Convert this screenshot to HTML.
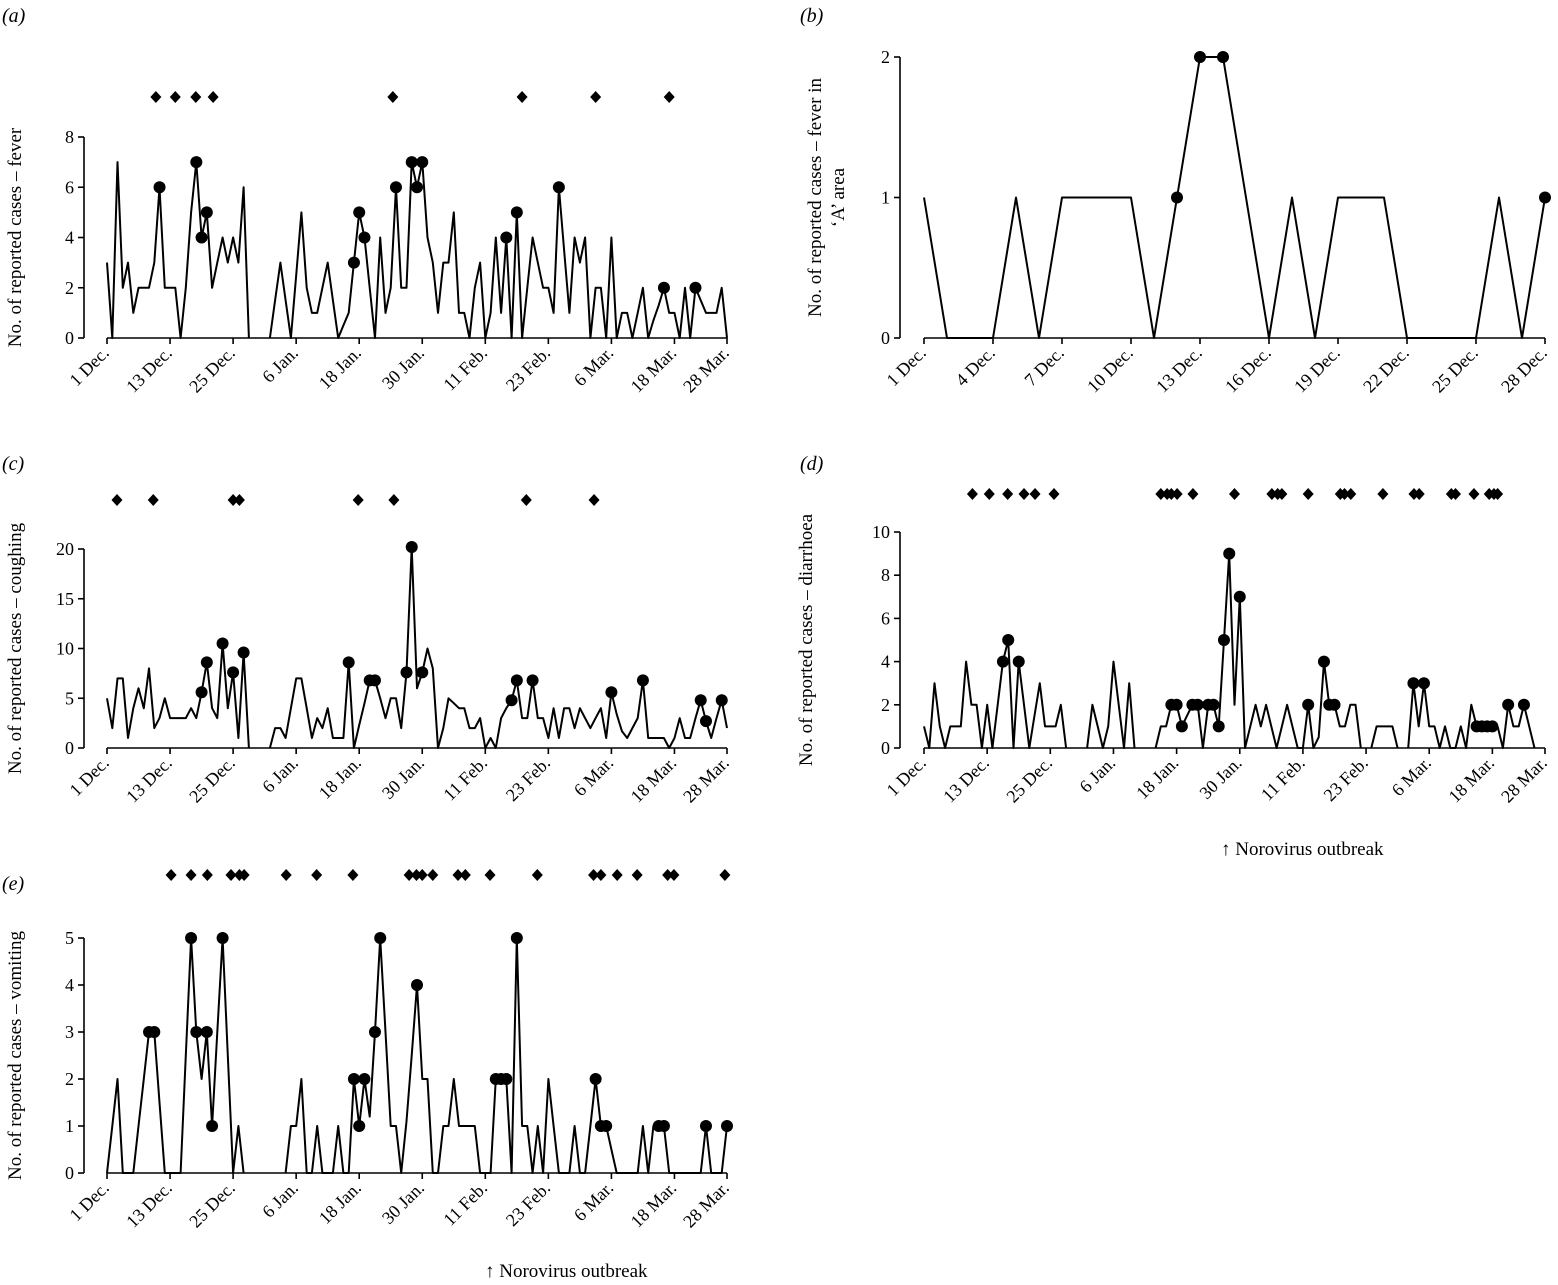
<!DOCTYPE html>
<html><head><meta charset="utf-8"><style>
body{margin:0;background:#fff}
svg{display:block;font-family:"Liberation Serif",serif}
</style></head><body>
<svg id="chart" width="1558" height="1285" viewBox="0 0 1558 1285" xmlns="http://www.w3.org/2000/svg"></svg>
<script>
const N=null;
const dateTicks=["1 Dec.","13 Dec.","25 Dec.","6 Jan.","18 Jan.","30 Jan.","11 Feb.","23 Feb.","6 Mar.","18 Mar.","28 Mar."];
const dateTickDays=[0,12,24,36,48,60,72,84,96,108,118];
const decTicks=["1 Dec.","4 Dec.","7 Dec.","10 Dec.","13 Dec.","16 Dec.","19 Dec.","22 Dec.","25 Dec.","28 Dec."];
const decTickDays=[0,3,6,9,12,15,18,21,24,27];

const feverVals=[3,0,7,2,3,1,2,2,2,3,6,2,2,2,0,2,5,7,4,5,2,3,4,3,4,3,6,0,N,N,N,0,1.5,3,1.5,0,2.5,5,2,1,1,2,3,1.5,0,0.5,1,3,5,4,2,0,4,1,2,6,2,2,7,6,7,4,3,1,3,3,5,1,1,0,2,3,0,1,4,1,4,0,5,0,2,4,3,2,2,1,6,3.5,1,4,3,4,0,2,2,0,4,0,1,1,0,1,2,0,0.7,1.3,2,1,1,0,2,0,2,1.5,1,1,1,2,0];
const feverDots=[10,17,18,19,47,48,49,55,58,59,60,76,78,86,106,112];
const feverFlags=[9.3,13,16.9,20.2,54.4,79,93,107];

const areaVals=[1,0,0,0,1,0,1,1,1,1,0,1,2,2,1,0,1,0,1,1,1,0,0,0,0,1,0,1];
const areaDots=[11,12,13,27];

const coughVals=[5,2,7,7,1,4,6,4,8,2,3,5,3,3,3,3,4,3,5.6,8.6,4,3,10.5,4,7.6,1,9.6,0,N,N,N,0,2,2,1,4,7,7,4,1,3,2,4,1,1,1,8.6,0,2.3,4.5,6.8,6.8,5,3,5,5,2,7.6,20.2,6,7.6,10,8,0,2,5,4.5,4,4,2,2,3,0,1,0,3,4,4.8,6.8,3,3,6.8,3,3,1,4,1,4,4,2,4,3,2,3,4,1,5.6,3.4,1.7,1,2,3,6.8,1,1,1,1,0,1,3,1,1,3,4.8,2.7,1,3,4.8,2];
const coughDots=[18,19,22,24,26,46,50,51,57,58,60,77,78,81,96,102,113,114,117];
const coughFlags=[1.9,8.8,24,25.2,47.8,54.6,79.8,92.7];

const diarrVals=[1,0,3,1,0,1,1,1,4,2,2,0,2,0,2,4,5,0,4,2,0,1.5,3,1,1,1,2,0,N,N,N,0,2,1,0,1,4,2,0,3,0,N,N,N,0,1,1,2,2,1,1.5,2,2,0,2,2,1,5,9,2,7,0,1,2,1,2,1,0,1,2,1,0,0,2,0,0.5,4,2,2,1,1,2,2,0,N,0,1,1,1,1,0,N,0,3,1,3,1,1,0,1,0,0,1,0,2,1,1,1,1,1,0,2,1,1,2,1,0,N,N];
const diarrDots=[15,16,18,47,48,49,51,52,54,55,56,57,58,60,73,76,77,78,93,95,105,106,107,108,111,114];
const diarrFlags=[9.2,12.4,15.9,19,21.1,24.7,45,46.2,47,48.1,51.1,59,66.1,67.2,68,73,79.1,79.9,81.1,87.2,93.1,94.1,100.2,101,104.5,107.4,108.3,109];

const vomitVals=[0,1,2,0,0,0,1,2,3,3,1.5,0,0,0,0,2.5,5,3,2,3,1,3,5,2.5,0,1,0,N,N,N,N,N,N,N,0,1,1,2,0,0,1,0,0,0,1,0,0,2,1,2,1.2,3,5,3,1,1,0,1.1,2.5,4,2,2,0,0,1,1,2,1,1,1,1,0,0,0,2,2,2,0,5,1,1,0,1,0,2,1,0,0,0,1,0,0,1,2,1,1,0.5,0,0,0,0,0,1,0,1,1,1,0,0,0,0,0,0,0,1,0,0,0,1];
const vomitDots=[8,9,16,17,19,20,22,47,48,49,51,52,59,74,75,76,78,93,94,95,105,106,114,118];
const vomitFlags=[12.2,16,19.1,23.6,25.2,26.1,34.1,39.9,46.8,57.5,58.9,60,62,66.8,68.2,72.9,81.9,92.6,94,97.1,100.9,106.7,107.9,117.6];

const yTicksA=[0,2,4,6,8], yTicksB=[0,1,2], yTicksC=[0,5,10,15,20], yTicksD=[0,2,4,6,8,10], yTicksE=[0,1,2,3,4,5];

const svg=document.getElementById('chart');
const NS='http://www.w3.org/2000/svg';
function mk(tag,attrs,parent){const e=document.createElementNS(NS,tag);for(const k in attrs)e.setAttribute(k,attrs[k]);(parent||svg).appendChild(e);return e;}

function panel(p){
  const g=mk('g',{});
  
  
  const xs=d=>p.x0+(p.x1-p.x0)*d/p.days;
  const ys=v=>p.y0-(p.y0-p.yTop)*v/p.yMax;
  const ya=mk('line',{x1:p.sx,x2:p.sx,y1:p.yTop,y2:p.y0,stroke:'#000','stroke-width':1.6},g);
  
  
  p.yTicks.forEach(v=>{
    mk('line',{x1:p.sx-6,x2:p.sx,y1:ys(v),y2:ys(v),stroke:'#000','stroke-width':1.6},g);
    const t=mk('text',{x:p.sx-10,y:ys(v)+6,'text-anchor':'end','font-size':18},g);
    t.textContent=v;
    
    
  });
  const xa=mk('line',{x1:p.x0,x2:p.x1,y1:p.y0,y2:p.y0,stroke:'#000','stroke-width':1.6},g);
  
  
  p.xDays.forEach((d,i)=>{
    const x=xs(d);
    mk('line',{x1:x,x2:x,y1:p.y0,y2:p.y0+6,stroke:'#000','stroke-width':1.6},g);
    const t=mk('text',{x:x+3,y:p.y0+16,'text-anchor':'end','font-size':18,transform:`rotate(-45 ${x+3} ${p.y0+16})`},g);
    t.textContent=p.xLabels[i];
    
    
  });
  let d='',pen=false;
  p.vals.forEach((v,i)=>{
    if(v===null){pen=false;return;}
    d+=(pen?'L':'M')+xs(i).toFixed(1)+' '+ys(v).toFixed(1)+' ';pen=true;
  });
  const ln=mk('path',{d:d,fill:'none',stroke:'#000','stroke-width':2,'stroke-linejoin':'round'},g);
  
  
  p.dots.forEach(i=>{
    const c=mk('circle',{cx:xs(i),cy:ys(p.vals[i]),r:6,fill:'#000'},g);
    
    
  });
  (p.flags||[]).forEach(f=>{
    const x=xs(f),y=p.flagY;
    const dm=mk('polygon',{points:`${x},${y-6} ${x+5.5},${y} ${x},${y+6} ${x-5.5},${y}`,fill:'#000'},g);
    
    
  });
  p.title.forEach((line,k)=>{
    const tx=p.titleX+k*23, ty=(p.yTop+p.y0)/2;
    const t=mk('text',{x:tx,y:ty,'text-anchor':'middle','font-size':19,transform:`rotate(-90 ${tx} ${ty})`},g);
    t.textContent=line;
    
    
  });
  const lb=mk('text',{x:p.lx,y:p.ly,'font-size':20,'font-style':'italic'},g);
  lb.textContent=p.label;
  
  
}

panel({name:'panel-a-fever',x0:107,x1:727,days:118,y0:338,yTop:137,yMax:8,sx:84,yTicks:yTicksA,xDays:dateTickDays,xLabels:dateTicks,vals:feverVals,dots:feverDots,flags:feverFlags,flagY:97,title:['No. of reported cases – fever'],titleX:21,label:'(a)',lx:2,ly:22});
panel({name:'panel-b-fever-area',x0:924,x1:1545,days:27,y0:338,yTop:57,yMax:2,sx:900,yTicks:yTicksB,xDays:decTickDays,xLabels:decTicks,vals:areaVals,dots:areaDots,flags:[],flagY:0,title:['No. of reported cases – fever in','‘A’ area'],titleX:821,label:'(b)',lx:800,ly:22});
panel({name:'panel-c-coughing',x0:107,x1:727,days:118,y0:748,yTop:549,yMax:20,sx:84,yTicks:yTicksC,xDays:dateTickDays,xLabels:dateTicks,vals:coughVals,dots:coughDots,flags:coughFlags,flagY:500,title:['No. of reported cases – coughing'],titleX:21,label:'(c)',lx:2,ly:470});
panel({name:'panel-d-diarrhoea',x0:924,x1:1545,days:118,y0:748,yTop:532,yMax:10,sx:900,yTicks:yTicksD,xDays:dateTickDays,xLabels:dateTicks,vals:diarrVals,dots:diarrDots,flags:diarrFlags,flagY:494,title:['No. of reported cases – diarrhoea'],titleX:812,label:'(d)',lx:800,ly:470});
panel({name:'panel-e-vomiting',x0:107,x1:727,days:118,y0:1173,yTop:938,yMax:5,sx:84,yTicks:yTicksE,xDays:dateTickDays,xLabels:dateTicks,vals:vomitVals,dots:vomitDots,flags:vomitFlags,flagY:875,title:['No. of reported cases – vomiting'],titleX:21,label:'(e)',lx:2,ly:890});

const n1=mk('text',{x:1221,y:855,'font-size':19});
n1.textContent='↑ Norovirus outbreak';


const n2=mk('text',{x:485,y:1277,'font-size':19});
n2.textContent='↑ Norovirus outbreak';


</script>
</body></html>
